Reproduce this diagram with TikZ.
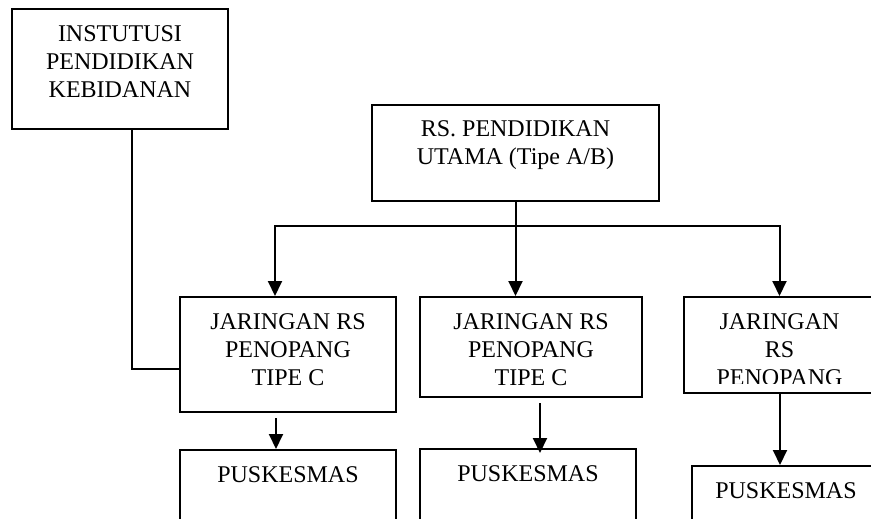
\documentclass[tikz,border=0pt]{standalone}
\usepackage{fontspec}
\setmainfont{Liberation Serif}
\usetikzlibrary{arrows.meta, positioning}
\tikzset{
  every picture/.style={line width=2pt, x=1pt, y=-1pt},
  box/.style={draw, rectangle, inner sep=0pt, minimum width=#1},
  box/.default=216pt,
  txt/.style={font=\fontsize{24}{28}\selectfont, align=center, inner sep=0pt, anchor=north},
  arrow/.style={-{Triangle[length=15pt, width=14pt]}},
}

\begin{document}
\begin{tikzpicture}
  \useasboundingbox (0,0) rectangle (871,519);
  \clip (0,0) rectangle (871,519);
  % top boxes
  \node[box, minimum height=120pt] (inst) at (120,69) {};
  \node[txt, below=16.8pt of inst.north] (instT) {INSTUTUSI\\PENDIDIKAN\\KEBIDANAN};
  \node[box=287pt, minimum height=96pt] (rs) at (515.5,153) {};
  \node[txt, below=15.5pt of rs.north] (rsT) {RS. PENDIDIKAN\\UTAMA (Tipe A/B)};
  % second row
  \foreach \i/\x/\y/\w/\h in {1/288/354.5/216/115, 2/531/347/222/100} {
    \node[box=\w pt, minimum height=\h pt] (jar\i) at (\x,\y) {};
    \node[txt, below=16.8pt of jar\i.north] (jar\i T) {JARINGAN RS\\PENOPANG\\TIPE C};
  }
  \node[box=191pt, minimum height=96pt] (jar3) at (779.5,345) {};
  \begin{scope}
    \clip (684,297) rectangle (880,383);
    \node[txt, below=16.8pt of jar3.north] (jar3T) {JARINGAN\\RS\\PENOPANG};
  \end{scope}
  % bottom row
  \foreach \i/\x/\y/\w in {1/288/500/216, 2/528/499/216, 3/786/516/188} {
    \node[box=\w pt, minimum height=100pt] (pus\i) at (\x,\y) {};
    \node[txt, below=16.8pt of pus\i.north] (pus\i T) {PUSKESMAS};
  }
  % connectors
  \coordinate (bus) at ([yshift=-24pt]rs.south);
  \draw[arrow] (rs.south) -- (rs.south |- jar2.north);
  \draw[arrow] (bus) -| ([xshift=-13pt]jar1.north);
  \draw[arrow] (bus) -| (jar3.north);
  \draw ([xshift=12pt]inst.south) |- ([yshift=-14.5pt]jar1.west);
  \draw[arrow] ([xshift=-12pt,yshift=-5pt]jar1.south) -- ([xshift=-12pt]pus1.north);
  \draw[arrow] ([xshift=9pt,yshift=-5pt]jar2.south) -- ([xshift=9pt,yshift=-5pt]jar2.south |- pus2.north);
  \draw[arrow] ([xshift=0.5pt]jar3.south) -- ([xshift=0.5pt]jar3.south |- pus3.north);
\end{tikzpicture}
\end{document}
